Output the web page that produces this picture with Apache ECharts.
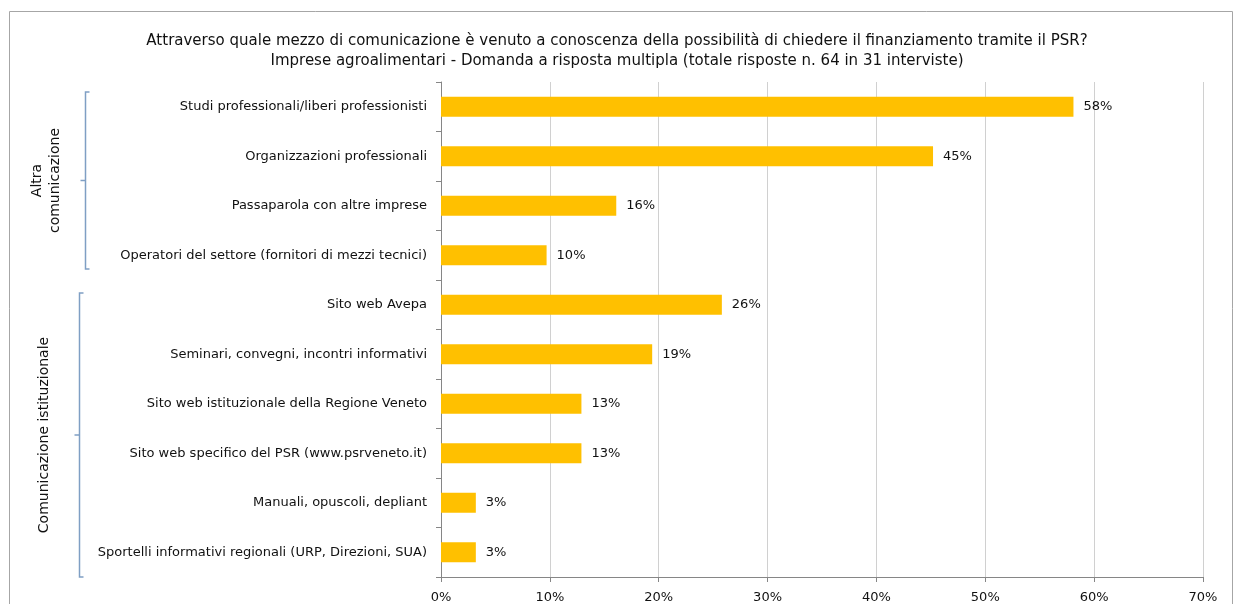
<!DOCTYPE html>
<html>
<head>
<meta charset="utf-8">
<script src="https://cdn.jsdelivr.net/npm/echarts@6/dist/echarts.min.js"></script>
<style>
  html, body { margin: 0; padding: 0; background: #fff; }
  #main { width: 1234px; height: 604px; }
</style>
</head>
<body>
<div id="main"></div>
<script>
// categories top to bottom
var categories = [
  'Studi professionali/liberi professionisti',
  'Organizzazioni professionali',
  'Passaparola con altre imprese',
  'Operatori del settore (fornitori di mezzi tecnici)',
  'Sito web Avepa',
  'Seminari, convegni, incontri informativi',
  'Sito web istituzionale della Regione Veneto',
  'Sito web specifico del PSR (www.psrveneto.it)',
  'Manuali, opuscoli, depliant',
  'Sportelli informativi regionali (URP, Direzioni, SUA)'
];
// percent of interviews
var values = [58.1, 45.2, 16.1, 9.7, 25.8, 19.4, 12.9, 12.9, 3.2, 3.2];
var groupNames = ['Altra\ncomunicazione', 'Comunicazione istituzionale'];
var groupFrom = [0, 4];
var groupTo = [3, 9];
var titleLines = [
  'Attraverso quale mezzo di comunicazione è venuto a conoscenza della possibilità di chiedere il finanziamento tramite il PSR?',
  'Imprese agroalimentari - Domanda a risposta multipla (totale risposte n. 64 in 31 interviste)'
];

var FONT = '"DejaVu Sans", Verdana, sans-serif';
var myChart = echarts.init(document.getElementById('main'));

var option = {
  animation: false,
  backgroundColor: '#fff',
  title: {
    text: titleLines.join('\n'),
    left: 'center',
    top: 26,
    textStyle: { fontFamily: FONT, fontSize: 15, fontWeight: 'normal', color: '#111', lineHeight: 20 }
  },
  grid: { left: 441, right: 31, top: 82, bottom: 27, containLabel: false },
  xAxis: {
    type: 'value',
    min: 0,
    max: 70,
    interval: 10,
    axisLine: { show: true, lineStyle: { color: '#868686' } },
    axisTick: { show: true, length: 5, lineStyle: { color: '#868686' } },
    axisLabel: { formatter: '{value}%', fontFamily: FONT, fontSize: 13, color: '#111', margin: 14 },
    splitLine: { show: true, lineStyle: { color: '#d0d0d0' } }
  },
  yAxis: {
    type: 'category',
    data: categories,
    inverse: true,
    axisLine: { show: true, lineStyle: { color: '#868686' } },
    axisTick: { show: true, length: 5, lineStyle: { color: '#868686' } },
    axisLabel: { fontFamily: FONT, fontSize: 13, color: '#111', margin: 14 }
  },
  series: [{
    type: 'bar',
    data: values,
    barWidth: 20,
    itemStyle: { color: '#FFC000' },
    label: {
      show: true,
      position: 'right',
      distance: 10,
      fontFamily: FONT,
      fontSize: 13,
      color: '#111',
      formatter: function (p) { return Math.round(p.value) + '%'; }
    }
  }]
};

myChart.setOption(option);

// outer border + group brackets, placed from the category axis
var band = myChart.convertToPixel({ yAxisIndex: 0 }, 1) - myChart.convertToPixel({ yAxisIndex: 0 }, 0);
var bracketX = [85, 79];
var labelX = [46, 44];
var graphics = [{
  type: 'rect',
  shape: { x: 9.5, y: 11.5, width: 1223, height: 620 },
  style: { fill: 'none', stroke: '#a6a6a6', lineWidth: 1 },
  silent: true
}];
for (var g = 0; g < groupNames.length; g++) {
  var y0 = myChart.convertToPixel({ yAxisIndex: 0 }, groupFrom[g]) - band / 2 + (g === 0 ? 10 : 13);
  var y1 = myChart.convertToPixel({ yAxisIndex: 0 }, groupTo[g]) + band / 2 - (g === 0 ? 11 : 0);
  var ym = (y0 + y1) / 2;
  var x = bracketX[g] + 0.5;
  graphics.push({
    type: 'polyline',
    shape: { points: [[x + 4, y0], [x, y0], [x, y1], [x + 4, y1]] },
    style: { fill: 'none', stroke: '#7f9fc4', lineWidth: 1.5 },
    silent: true
  });
  graphics.push({
    type: 'line',
    shape: { x1: x - 5, y1: ym, x2: x, y2: ym },
    style: { stroke: '#7f9fc4', lineWidth: 1.5 },
    silent: true
  });
  graphics.push({
    type: 'text',
    x: labelX[g],
    y: ym,
    rotation: Math.PI / 2,
    style: {
      text: groupNames[g],
      fontFamily: FONT,
      fontSize: 14,
      lineHeight: 18,
      fill: '#111',
      align: 'center',
      verticalAlign: 'middle'
    },
    silent: true
  });
}
myChart.setOption({ graphic: graphics });
</script>
</body>
</html>
